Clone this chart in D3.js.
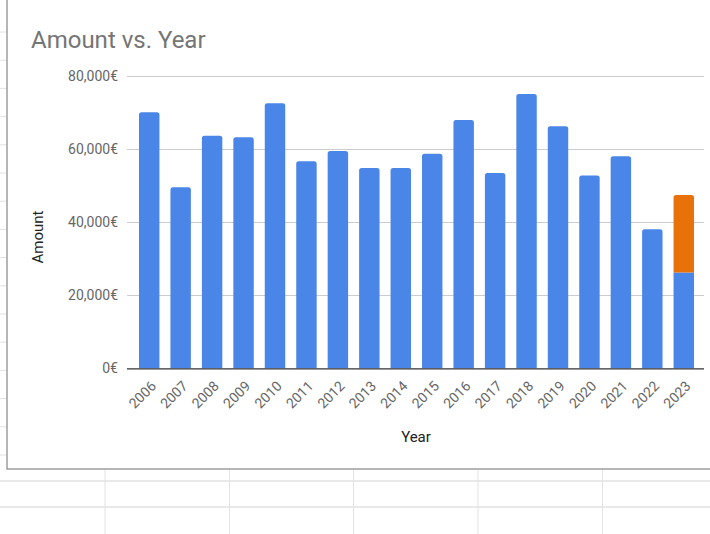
<!DOCTYPE html>
<html>
<head>
<meta charset="utf-8">
<script src="https://cdn.jsdelivr.net/npm/d3@7"></script>
<style>
  body { margin: 0; background: #fff; }
  svg { display: block; font-family: Roboto, Arial, sans-serif; }
</style>
</head>
<body>
<svg id="chart" width="710" height="534"></svg>
<script>
// data
var years = ["2006","2007","2008","2009","2010","2011","2012","2013","2014",
             "2015","2016","2017","2018","2019","2020","2021","2022","2023"];
var amounts = [70000, 49500, 63600, 63200, 72500, 56600, 59400, 54800, 54800,
               58700, 67900, 53400, 75000, 66200, 52700, 58000, 38000, 26200];
var extra = [0, 0, 0, 0, 0, 0, 0, 0, 0, 0, 0, 0, 0, 0, 0, 0, 0, 21200];
var yTicks = [0, 20000, 40000, 60000, 80000];

var blue = "#4a86e8", orange = "#e8710a";

var svg = d3.select("#chart");

// spreadsheet cells behind the chart
var grid = svg.append("g").attr("stroke", "#e2e2e2").attr("stroke-width", 1);
for (var gy = 32; gy < 468; gy += 28.2) {
  grid.append("line").attr("x1", 0).attr("x2", 7).attr("y1", gy).attr("y2", gy);
}
[481, 507].forEach(function(gy){
  grid.append("line").attr("x1", 0).attr("x2", 710).attr("y1", gy).attr("y2", gy).attr("stroke-width", 1.5);
});
[105, 229.5, 353.5, 478, 602.5].forEach(function(gx){
  grid.append("line").attr("x1", gx).attr("x2", gx).attr("y1", 470).attr("y2", 534);
});

// chart frame (left + bottom edge visible)
svg.append("path")
  .attr("d", "M7,0 V469 H710")
  .attr("fill", "none")
  .attr("stroke", "#9e9e9e")
  .attr("stroke-width", 1.5);

var x = d3.scaleBand().domain(years).range([133.5, 699.5]).paddingInner(0.35).paddingOuter(0.175);
var y = d3.scaleLinear().domain([0, 80000]).range([368.3, 75.8]);

// title
svg.append("text")
  .attr("x", 31).attr("y", 47.5)
  .attr("font-size", 24)
  .attr("fill", "#757575")
  .text("Amount vs. Year");

// gridlines
svg.append("g").selectAll("line")
  .data(yTicks.filter(function(d){ return d > 0; }))
  .enter().append("line")
  .attr("x1", 127).attr("x2", 704)
  .attr("y1", function(d){ return Math.round(y(d)) + 0.5; })
  .attr("y2", function(d){ return Math.round(y(d)) + 0.5; })
  .attr("stroke", "#cccccc");

// y tick labels
var fmt = d3.format(",");
svg.append("g").selectAll("text")
  .data(yTicks)
  .enter().append("text")
  .attr("x", 118)
  .attr("y", function(d){ return y(d) + 5; })
  .attr("text-anchor", "end")
  .attr("font-size", 14)
  .attr("fill", "#666")
  .text(function(d){ return fmt(d) + "€"; });

// bars with rounded tops
function topRounded(x0, y0, w, h, r){
  r = Math.min(r, h);
  return "M" + x0 + "," + (y0 + h) +
    "V" + (y0 + r) + "Q" + x0 + "," + y0 + " " + (x0 + r) + "," + y0 +
    "H" + (x0 + w - r) + "Q" + (x0 + w) + "," + y0 + " " + (x0 + w) + "," + (y0 + r) +
    "V" + (y0 + h) + "Z";
}

var bars = svg.append("g");
bars.selectAll("path.a")
  .data(years)
  .enter().append("path")
  .attr("class", "a")
  .attr("fill", blue)
  .attr("d", function(d, i){
    var top = y(amounts[i]);
    var r = extra[i] > 0 ? 0 : 2.5;
    return topRounded(x(d), top, x.bandwidth(), y(0) - top, r);
  });

bars.selectAll("path.b")
  .data(years.filter(function(d, i){ return extra[i] > 0; }))
  .enter().append("path")
  .attr("class", "b")
  .attr("fill", orange)
  .attr("d", function(d){
    var i = years.indexOf(d);
    var top = y(amounts[i] + extra[i]);
    return topRounded(x(d), top, x.bandwidth(), y(amounts[i]) - top, 2.5);
  });

// baseline
svg.append("line")
  .attr("x1", 127).attr("x2", 704)
  .attr("y1", y(0) + 0.5).attr("y2", y(0) + 0.5)
  .attr("stroke", "#333").attr("stroke-width", 1.2);

// x tick labels, rotated
svg.append("g").selectAll("text")
  .data(years)
  .enter().append("text")
  .attr("text-anchor", "end")
  .attr("font-size", 14)
  .attr("fill", "#666")
  .attr("transform", function(d){
    return "translate(" + (x(d) + x.bandwidth() / 2 + 7.8) + ",387) rotate(-45)";
  })
  .text(function(d){ return d; });

// axis titles
svg.append("text")
  .attr("x", 416).attr("y", 441.5)
  .attr("text-anchor", "middle")
  .attr("font-size", 15)
  .attr("fill", "#222")
  .text("Year");

svg.append("text")
  .attr("transform", "translate(43,237) rotate(-90)")
  .attr("text-anchor", "middle")
  .attr("font-size", 15)
  .attr("fill", "#222")
  .text("Amount");
</script>
</body>
</html>
